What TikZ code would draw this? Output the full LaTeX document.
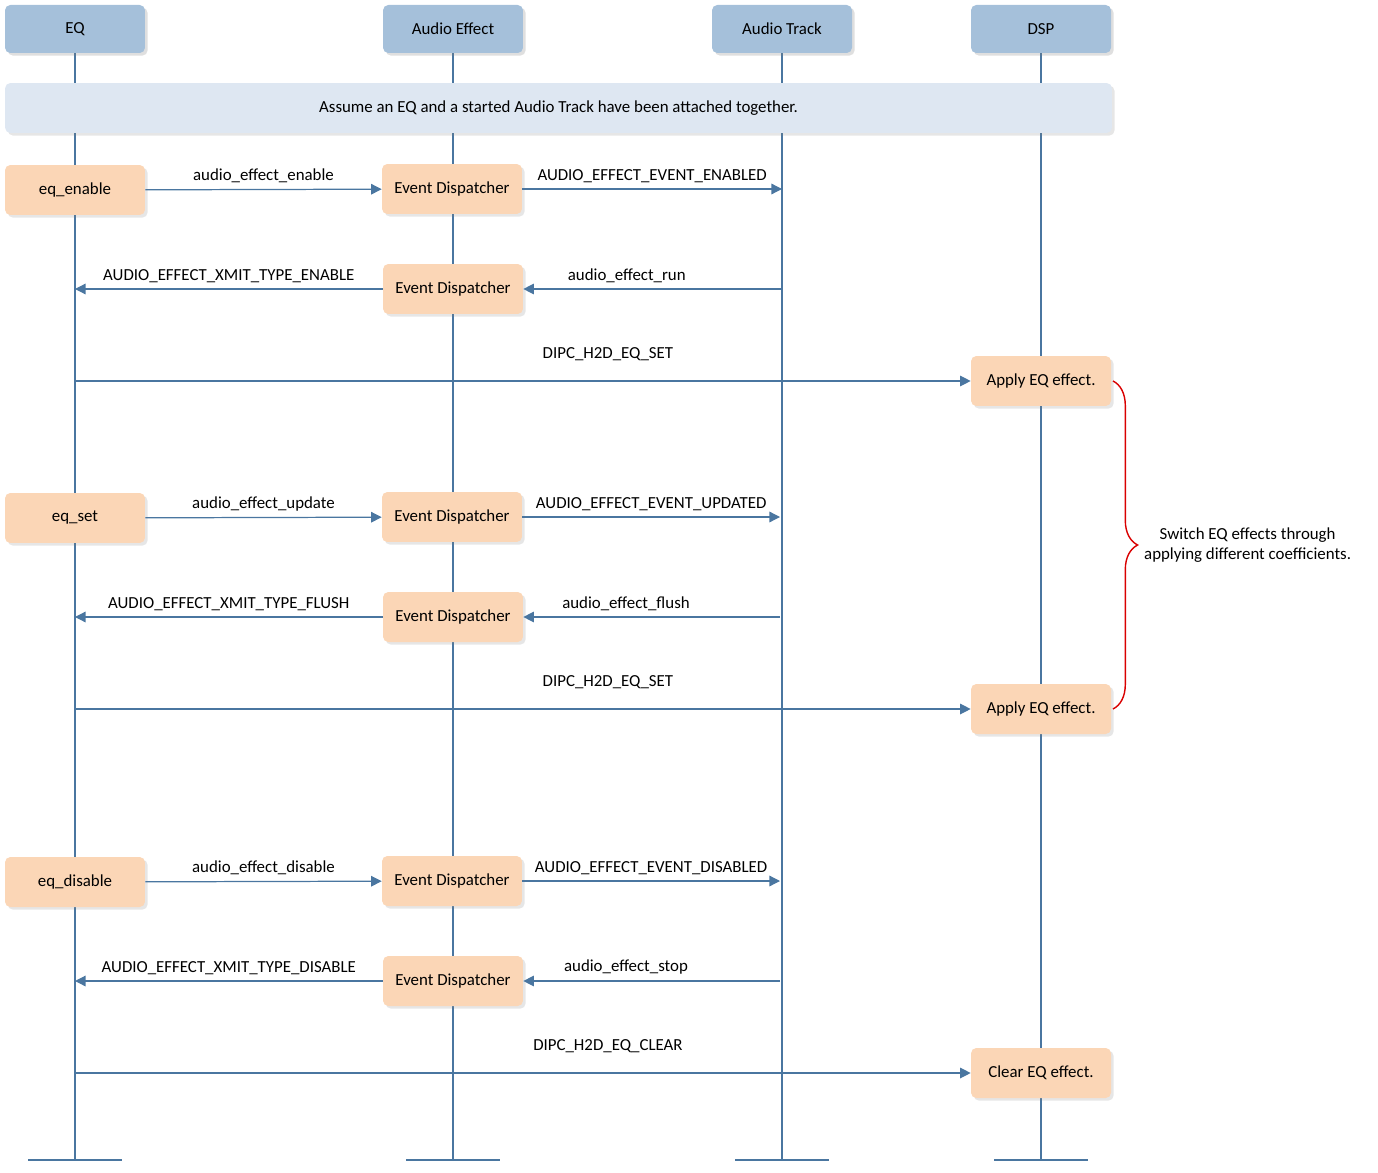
\documentclass[tikz,border=0pt]{standalone}
\usepackage{fontspec}
\setmainfont{Carlito}
\usetikzlibrary{arrows.meta,shadows,decorations.pathreplacing}
\definecolor{headblue}{HTML}{A5C0DA}
\definecolor{bannerblue}{HTML}{DEE7F2}
\definecolor{boxorange}{HTML}{FBD6B6}
\definecolor{lineblue}{HTML}{4A76A0}
\tikzset{
  every node/.style={font=\fontsize{9.6}{11.5}\selectfont, text=black},
  head/.style={fill=headblue, rounded corners=3pt, minimum width=2.8cm, minimum height=0.96cm, drop shadow={opacity=0.25,shadow xshift=1.5pt,shadow yshift=-1.5pt}},
  act/.style={fill=boxorange, rounded corners=3pt, minimum width=2.8cm, minimum height=1cm, drop shadow={opacity=0.2,shadow xshift=1.5pt,shadow yshift=-1.5pt}},
  life/.style={lineblue, line width=0.7pt},
  msg/.style={lineblue, line width=0.7pt, -{Triangle[length=6pt,width=6pt]}},
}
\begin{document}
\begin{tikzpicture}[x=0.02cm,y=-0.02cm]
  \useasboundingbox (0,0) rectangle (1378,1172);

  % lifelines
  \foreach \x/\n in {75/eq,453/ae,782/at,1041/dsp} {
    \coordinate (\n top) at (\x,29);
    \coordinate (\n bot) at (\x,1160);
    \draw[life] (\n top) -- (\n bot);
    \draw[life] (\x-47,1160) -- (\x+47,1160);
  }

  % headers
  \node[head] (hEQ) at (75,29) {EQ};
  \node[head] (hAE) at (453,29) {Audio Effect};
  \node[head] (hAT) at (782,29) {Audio Track};
  \node[head] (hDSP) at (1041,29) {DSP};

  % banner
  \node[fill=bannerblue, rounded corners=3pt, minimum width=22.14cm, minimum height=1cm,
    drop shadow={opacity=0.2,shadow xshift=1.5pt,shadow yshift=-1.5pt}] (banner) at (558.5,108)
    {Assume an EQ and a started Audio Track have been attached together.};

  % enable
  \node[act] (enable) at (75,190) {eq\_enable};
  \node[act] (ed1) at (452,189) {Event Dispatcher};
  \node[act] (ed2) at (453,289) {Event Dispatcher};
  \node[act] (apply1) at (1041,381) {Apply EQ effect.};
  \coordinate (at1) at (782,189);
  \coordinate (at2) at (782,289);
  \coordinate (eq2) at (75,289);
  \coordinate (eq3) at (75,381);
  \draw[msg] (enable) -- node[above] {audio\_effect\_enable} (ed1);
  \draw[msg] (ed1) -- node[above] {AUDIO\_EFFECT\_EVENT\_ENABLED} (at1);
  \draw[msg] (at2) -- node[above, pos=0.6] {audio\_effect\_run} (ed2);
  \draw[msg] (ed2) -- node[above] {AUDIO\_EFFECT\_XMIT\_TYPE\_ENABLE} (eq2);
  \draw[msg] (eq3) -- node[above=8pt, pos=0.595] {DIPC\_H2D\_EQ\_SET} (apply1);

  % set
  \node[act] (set) at (75,518) {eq\_set};
  \node[act] (ed3) at (452,517) {Event Dispatcher};
  \node[act] (ed4) at (453,617) {Event Dispatcher};
  \node[act] (apply2) at (1041,709) {Apply EQ effect.};
  \coordinate (at3) at (780,517);
  \coordinate (at4) at (780,617);
  \coordinate (eq4) at (75,617);
  \coordinate (eq5) at (75,709);
  \draw[msg] (set) -- node[above] {audio\_effect\_update} (ed3);
  \draw[msg] (ed3) -- node[above] {AUDIO\_EFFECT\_EVENT\_UPDATED} (at3);
  \draw[msg] (at4) -- node[above, pos=0.6] {audio\_effect\_flush} (ed4);
  \draw[msg] (ed4) -- node[above] {AUDIO\_EFFECT\_XMIT\_TYPE\_FLUSH} (eq4);
  \draw[msg] (eq5) -- node[above=8pt, pos=0.595] {DIPC\_H2D\_EQ\_SET} (apply2);

  % disable
  \node[act] (disable) at (75,882) {eq\_disable};
  \node[act] (ed5) at (452,881) {Event Dispatcher};
  \node[act] (ed6) at (453,981) {Event Dispatcher};
  \node[act] (clear) at (1041,1073) {Clear EQ effect.};
  \coordinate (at5) at (780,881);
  \coordinate (at6) at (780,981);
  \coordinate (eq6) at (75,981);
  \coordinate (eq7) at (75,1073);
  \draw[msg] (disable) -- node[above] {audio\_effect\_disable} (ed5);
  \draw[msg] (ed5) -- node[above] {AUDIO\_EFFECT\_EVENT\_DISABLED} (at5);
  \draw[msg] (at6) -- node[above, pos=0.6] {audio\_effect\_stop} (ed6);
  \draw[msg] (ed6) -- node[above] {AUDIO\_EFFECT\_XMIT\_TYPE\_DISABLE} (eq6);
  \draw[msg] (eq7) -- node[above=8pt, pos=0.595] {DIPC\_H2D\_EQ\_CLEAR} (clear);

  % brace
  \coordinate (br1) at (1113,381);
  \coordinate (br2) at (1113,709);
  \draw[red!85!black, line width=0.8pt, decorate, decoration={brace, amplitude=14pt}]
    (br1) -- node[right=14pt, align=center] (note) {Switch EQ effects through\\applying different coefficients.} (br2);
\end{tikzpicture}
\end{document}
